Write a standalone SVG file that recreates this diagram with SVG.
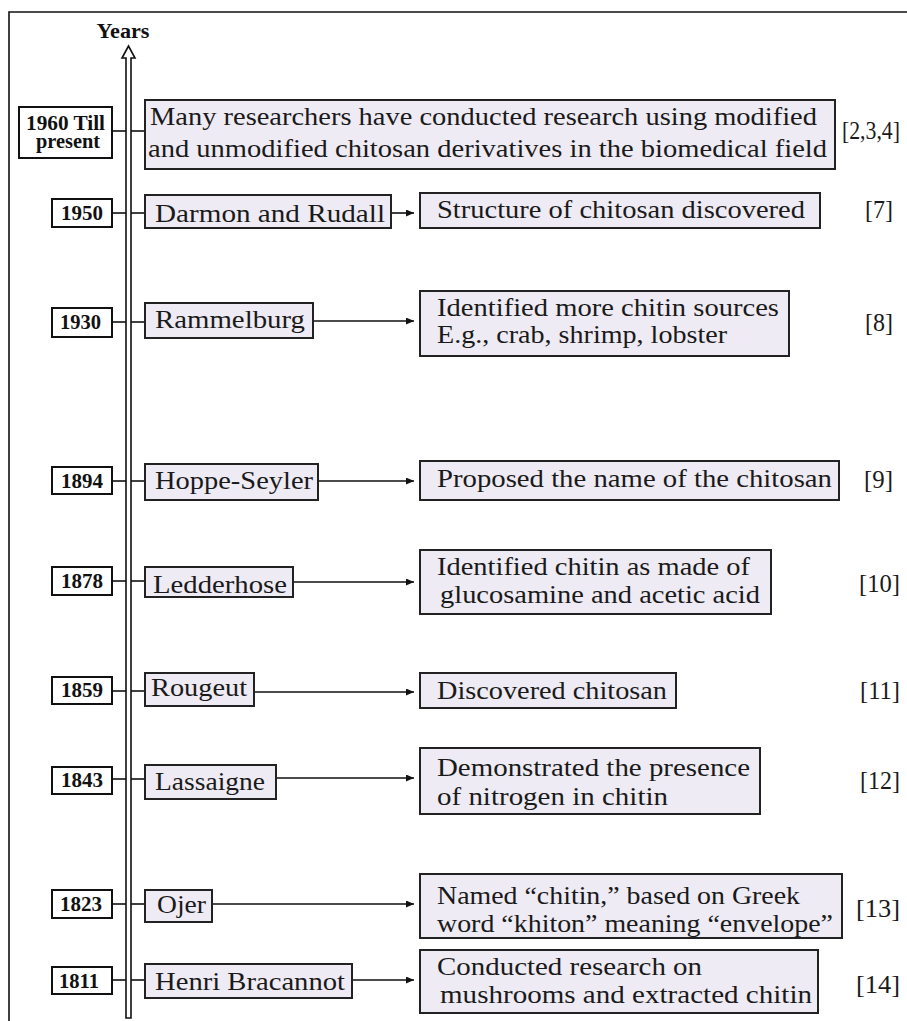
<svg xmlns="http://www.w3.org/2000/svg" width="907" height="1021" viewBox="0 0 907 1021">
<defs>
<style>
.yr{fill:#ffffff;stroke:#111;stroke-width:2}
.ev{fill:#eeebf4;stroke:#222;stroke-width:2}
.tx{font-family:"Liberation Serif","Times New Roman",serif;font-size:26px;fill:#1a1a1a}
.yt{font-family:"Liberation Serif","Times New Roman",serif;font-size:20px;font-weight:bold;fill:#111}
.ref{font-family:"Liberation Serif","Times New Roman",serif;font-size:26px;fill:#1a1a1a}
.ln{stroke:#111;stroke-width:1.6;fill:none}
</style>
<marker id="ah" markerUnits="userSpaceOnUse" markerWidth="8" markerHeight="7" refX="8" refY="3.5" orient="auto">
<path d="M0,0 L8,3.5 L0,7 z" fill="#111"/>
</marker>
</defs>
<rect width="907" height="1021" fill="#ffffff"/>
<path d="M9,1021 V12 H907" fill="none" stroke="#111" stroke-width="1.6"/>

<g id="axis">
<path d="M126,1018 V58 H122 L128.5,46 L135,58 H131 V1018 Z" fill="#ffffff" stroke="#111" stroke-width="1.6"/>
<text x="123" y="38" class="yt" font-size="21" text-anchor="middle" textLength="53" lengthAdjust="spacingAndGlyphs">Years</text>
</g>

<g id="connectors">
<line class="ln" x1="112" y1="131" x2="126" y2="131"/><line class="ln" x1="131" y1="131" x2="145" y2="131"/>
<line class="ln" x1="112" y1="213" x2="126" y2="213"/><line class="ln" x1="131" y1="213" x2="145" y2="213"/>
<line class="ln" x1="391" y1="213" x2="414" y2="213" marker-end="url(#ah)"/>
<line class="ln" x1="112" y1="322" x2="126" y2="322"/><line class="ln" x1="131" y1="322" x2="145" y2="322"/>
<line class="ln" x1="313" y1="321" x2="414" y2="321" marker-end="url(#ah)"/>
<line class="ln" x1="112" y1="481" x2="126" y2="481"/><line class="ln" x1="131" y1="481" x2="145" y2="481"/>
<line class="ln" x1="318" y1="481" x2="414" y2="481" marker-end="url(#ah)"/>
<line class="ln" x1="112" y1="581" x2="126" y2="581"/><line class="ln" x1="131" y1="581" x2="145" y2="581"/>
<line class="ln" x1="293" y1="582" x2="414" y2="582" marker-end="url(#ah)"/>
<line class="ln" x1="112" y1="691" x2="126" y2="691"/><line class="ln" x1="131" y1="691" x2="145" y2="691"/>
<line class="ln" x1="254" y1="692" x2="414" y2="692" marker-end="url(#ah)"/>
<line class="ln" x1="112" y1="779" x2="126" y2="779"/><line class="ln" x1="131" y1="779" x2="145" y2="779"/>
<line class="ln" x1="276" y1="778" x2="414" y2="778" marker-end="url(#ah)"/>
<line class="ln" x1="112" y1="904" x2="126" y2="904"/><line class="ln" x1="131" y1="904" x2="145" y2="904"/>
<line class="ln" x1="212" y1="904" x2="414" y2="904" marker-end="url(#ah)"/>
<line class="ln" x1="112" y1="980" x2="126" y2="980"/><line class="ln" x1="131" y1="980" x2="145" y2="980"/>
<line class="ln" x1="352" y1="980" x2="414" y2="980" marker-end="url(#ah)"/>
</g>

<g id="y1960"><rect class="yr" x="19" y="107" width="93" height="51"/>
<text class="yt" font-size="16"><tspan x="26" y="130" textLength="79" lengthAdjust="spacingAndGlyphs">1960 Till</tspan><tspan x="36" y="148" textLength="64" lengthAdjust="spacingAndGlyphs">present</tspan></text></g>
<g id="e1960"><rect class="ev" x="145" y="100" width="690" height="69"/>
<text class="tx" x="150" y="125" textLength="667" lengthAdjust="spacingAndGlyphs">Many researchers have conducted research using modified</text>
<text class="tx" x="148" y="157" textLength="679" lengthAdjust="spacingAndGlyphs">and unmodified chitosan derivatives in the biomedical field</text></g>
<text id="r1960" class="ref" x="842" y="139" font-size="23" textLength="58" lengthAdjust="spacingAndGlyphs">[2,3,4]</text>

<g id="y1950"><rect class="yr" x="52" y="199" width="60" height="28"/>
<text class="yt" x="61" y="220" textLength="42" lengthAdjust="spacingAndGlyphs">1950</text></g>
<g id="p1950"><rect class="ev" x="145" y="195" width="246" height="33"/>
<text class="tx" x="155" y="222" textLength="230" lengthAdjust="spacingAndGlyphs">Darmon and Rudall</text></g>
<g id="d1950"><rect class="ev" x="420" y="193" width="400" height="35"/>
<text class="tx" x="437" y="218" textLength="368" lengthAdjust="spacingAndGlyphs">Structure of chitosan discovered</text></g>
<text id="r1950" class="ref" x="865" y="218" textLength="28" lengthAdjust="spacingAndGlyphs">[7]</text>

<g id="y1930"><rect class="yr" x="52" y="308" width="60" height="29"/>
<text class="yt" x="60" y="329" textLength="41" lengthAdjust="spacingAndGlyphs">1930</text></g>
<g id="p1930"><rect class="ev" x="145" y="303" width="168" height="35"/>
<text class="tx" x="155" y="328" textLength="150" lengthAdjust="spacingAndGlyphs">Rammelburg</text></g>
<g id="d1930"><rect class="ev" x="420" y="291" width="369" height="65"/>
<text class="tx" x="437" y="316" textLength="342" lengthAdjust="spacingAndGlyphs">Identified more chitin sources</text>
<text class="tx" x="437" y="343" textLength="290" lengthAdjust="spacingAndGlyphs">E.g., crab, shrimp, lobster</text></g>
<text id="r1930" class="ref" x="865" y="331" textLength="28" lengthAdjust="spacingAndGlyphs">[8]</text>

<g id="y1894"><rect class="yr" x="52" y="467" width="60" height="27"/>
<text class="yt" x="61" y="488" textLength="42" lengthAdjust="spacingAndGlyphs">1894</text></g>
<g id="p1894"><rect class="ev" x="145" y="464" width="173" height="36"/>
<text class="tx" x="155" y="489" textLength="158" lengthAdjust="spacingAndGlyphs">Hoppe-Seyler</text></g>
<g id="d1894"><rect class="ev" x="420" y="461" width="419" height="39"/>
<text class="tx" x="437" y="487" textLength="395" lengthAdjust="spacingAndGlyphs">Proposed the name of the chitosan</text></g>
<text id="r1894" class="ref" x="864" y="488" textLength="29" lengthAdjust="spacingAndGlyphs">[9]</text>

<g id="y1878"><rect class="yr" x="52" y="567" width="60" height="28"/>
<text class="yt" x="61" y="588" textLength="42" lengthAdjust="spacingAndGlyphs">1878</text></g>
<g id="p1878"><rect class="ev" x="145" y="567" width="148" height="30"/>
<text class="tx" x="153" y="593" textLength="134" lengthAdjust="spacingAndGlyphs">Ledderhose</text></g>
<g id="d1878"><rect class="ev" x="420" y="550" width="351" height="64"/>
<text class="tx" x="437" y="575" textLength="313" lengthAdjust="spacingAndGlyphs">Identified chitin as made of</text>
<text class="tx" x="440" y="603" textLength="320" lengthAdjust="spacingAndGlyphs">glucosamine and acetic acid</text></g>
<text id="r1878" class="ref" x="859" y="592" textLength="41" lengthAdjust="spacingAndGlyphs">[10]</text>

<g id="y1859"><rect class="yr" x="52" y="677" width="60" height="27"/>
<text class="yt" x="61" y="697" textLength="42" lengthAdjust="spacingAndGlyphs">1859</text></g>
<g id="p1859"><rect class="ev" x="145" y="673" width="109" height="33"/>
<text class="tx" x="151" y="696" textLength="96" lengthAdjust="spacingAndGlyphs">Rougeut</text></g>
<g id="d1859"><rect class="ev" x="420" y="673" width="256" height="35"/>
<text class="tx" x="437" y="699" textLength="230" lengthAdjust="spacingAndGlyphs">Discovered chitosan</text></g>
<text id="r1859" class="ref" x="860" y="699" textLength="40" lengthAdjust="spacingAndGlyphs">[11]</text>

<g id="y1843"><rect class="yr" x="52" y="767" width="60" height="27"/>
<text class="yt" x="61" y="787" textLength="42" lengthAdjust="spacingAndGlyphs">1843</text></g>
<g id="p1843"><rect class="ev" x="145" y="765" width="131" height="34"/>
<text class="tx" x="155" y="790" textLength="110" lengthAdjust="spacingAndGlyphs">Lassaigne</text></g>
<g id="d1843"><rect class="ev" x="420" y="748" width="340" height="66"/>
<text class="tx" x="437" y="776" textLength="313" lengthAdjust="spacingAndGlyphs">Demonstrated the presence</text>
<text class="tx" x="437" y="805" textLength="231" lengthAdjust="spacingAndGlyphs">of nitrogen in chitin</text></g>
<text id="r1843" class="ref" x="860" y="789" textLength="40" lengthAdjust="spacingAndGlyphs">[12]</text>

<g id="y1823"><rect class="yr" x="52" y="890" width="60" height="28"/>
<text class="yt" x="60" y="911" textLength="42" lengthAdjust="spacingAndGlyphs">1823</text></g>
<g id="p1823"><rect class="ev" x="145" y="890" width="67" height="32"/>
<text class="tx" x="157" y="913" textLength="49" lengthAdjust="spacingAndGlyphs">Ojer</text></g>
<g id="d1823"><rect class="ev" x="420" y="874" width="422" height="64"/>
<text class="tx" x="437" y="904" textLength="363" lengthAdjust="spacingAndGlyphs">Named “chitin,” based on Greek</text>
<text class="tx" x="437" y="932" textLength="396" lengthAdjust="spacingAndGlyphs">word “khiton” meaning “envelope”</text></g>
<text id="r1823" class="ref" x="856" y="917" textLength="44" lengthAdjust="spacingAndGlyphs">[13]</text>

<g id="y1811"><rect class="yr" x="52" y="967" width="60" height="27"/>
<text class="yt" x="59" y="988" textLength="40" lengthAdjust="spacingAndGlyphs">1811</text></g>
<g id="p1811"><rect class="ev" x="145" y="964" width="207" height="34"/>
<text class="tx" x="155" y="990" textLength="190" lengthAdjust="spacingAndGlyphs">Henri Bracannot</text></g>
<g id="d1811"><rect class="ev" x="420" y="950" width="398" height="63"/>
<text class="tx" x="437" y="975" textLength="265" lengthAdjust="spacingAndGlyphs">Conducted research on</text>
<text class="tx" x="440" y="1003" textLength="372" lengthAdjust="spacingAndGlyphs">mushrooms and extracted chitin</text></g>
<text id="r1811" class="ref" x="856" y="993" textLength="44" lengthAdjust="spacingAndGlyphs">[14]</text>
</svg>
